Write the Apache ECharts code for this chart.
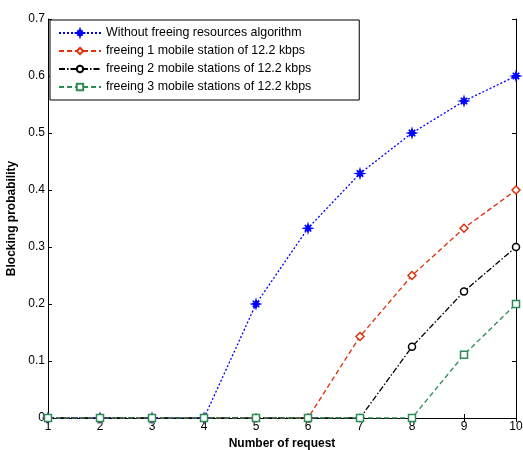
<!DOCTYPE html>
<html><head><meta charset="utf-8">
<script src="https://cdn.jsdelivr.net/npm/echarts@6/dist/echarts.min.js"></script>
<style>html,body{margin:0;padding:0;background:#fff}#c{width:523px;height:450px}</style>
</head><body><div id="c"></div>
<script>
const categories = [1,2,3,4,5,6,7,8,9,10];
const seriesNames = [
  'Without freeing resources algorithm',
  'freeing 1 mobile station of 12.2 kbps',
  'freeing 2 mobile stations of 12.2 kbps',
  'freeing 3 mobile stations of 12.2 kbps'
];
const withoutFreeing = [0,0,0,0,0.2,0.333,0.429,0.5,0.556,0.6];
const freeing1 = [0,0,0,0,0,0,0.143,0.25,0.333,0.4];
const freeing2 = [0,0,0,0,0,0,0,0.125,0.222,0.3];
const freeing3 = [0,0,0,0,0,0,0,0,0.111,0.2];

const starPath = 'path://M5,0 L6,3.5 L9,1 L6.5,4 L10,5 L6.5,6 L9,9 L6,6.5 L5,10 L4,6.5 L1,9 L3.5,6 L0,5 L3.5,4 L1,1 L4,3.5 Z';
const font = 'Liberation Sans, Arial, sans-serif';
function pts(arr){ return arr.map((v,i)=>[categories[i], v]); }

const chart = echarts.init(document.getElementById('c'));
const mk = (name, data, color, type, symbol, size, fillSym) => ({
  name, type:'line', data: pts(data), symbol, symbolSize: size,
  xAxisIndex:0, yAxisIndex:0,
  lineStyle:{color, width:1.3, type},
  itemStyle:{color: fillSym ? color : '#fff', borderColor: color, borderWidth:1.5},
  emphasis:{disabled:true}, animation:false
});
chart.setOption({
  animation:false,
  grid:{left:48, right:7, top:19, bottom:32, outerBoundsMode:'none', containLabel:false},
  legend:{
    left:50, top:20, orient:'vertical',
    padding:[7,48,7,8], itemGap:6, itemWidth:42, itemHeight:8,
    borderColor:'#000', borderWidth:1, backgroundColor:'#fff',
    textStyle:{fontFamily:font, fontSize:12.4, color:'#000'},
    data: seriesNames
  },
  xAxis:[
    {type:'value', min:1, max:10, interval:1, position:'bottom',
     name:'Number of request', nameLocation:'middle', nameGap:18,
     nameTextStyle:{fontFamily:font, fontWeight:'bold', fontSize:12, color:'#000'},
     axisLine:{lineStyle:{color:'#000', width:1}},
     axisTick:{inside:true, length:4, lineStyle:{color:'#000'}},
     axisLabel:{fontFamily:font, fontSize:12, color:'#000', margin:3},
     splitLine:{show:false}},
    {type:'value', min:1, max:10, interval:1, position:'top',
     axisLine:{lineStyle:{color:'#000', width:1}},
     axisTick:{inside:true, length:4, lineStyle:{color:'#000'}},
     axisLabel:{show:false}, splitLine:{show:false}}
  ],
  yAxis:[
    {type:'value', min:0, max:0.7, interval:0.1, position:'left',
     name:'Blocking probability', nameLocation:'middle', nameGap:27, nameRotate:90,
     nameTextStyle:{fontFamily:font, fontWeight:'bold', fontSize:12, color:'#000'},
     axisLine:{show:true, lineStyle:{color:'#000', width:1}},
     axisTick:{show:true, inside:true, length:4, lineStyle:{color:'#000'}},
     axisLabel:{fontFamily:font, fontSize:12, color:'#000', margin:3,
       formatter:v=> v===0 ? '0' : v.toFixed(1)},
     splitLine:{show:false}},
    {type:'value', min:0, max:0.7, interval:0.1, position:'right',
     axisLine:{show:true, lineStyle:{color:'#000', width:1}},
     axisTick:{show:true, inside:true, length:4, lineStyle:{color:'#000'}},
     axisLabel:{show:false}, splitLine:{show:false}}
  ],
  series:[
    mk(seriesNames[0], withoutFreeing, '#0000ff', [2,2], starPath, 8, true),
    mk(seriesNames[1], freeing1, '#e0300a', [5,3], 'diamond', 8, false),
    mk(seriesNames[2], freeing2, '#000000', [6,2,1.5,2], 'circle', 7, false),
    mk(seriesNames[3], freeing3, '#2e8b57', [5,3], 'rect', 7, false)
  ]
});
</script></body></html>
